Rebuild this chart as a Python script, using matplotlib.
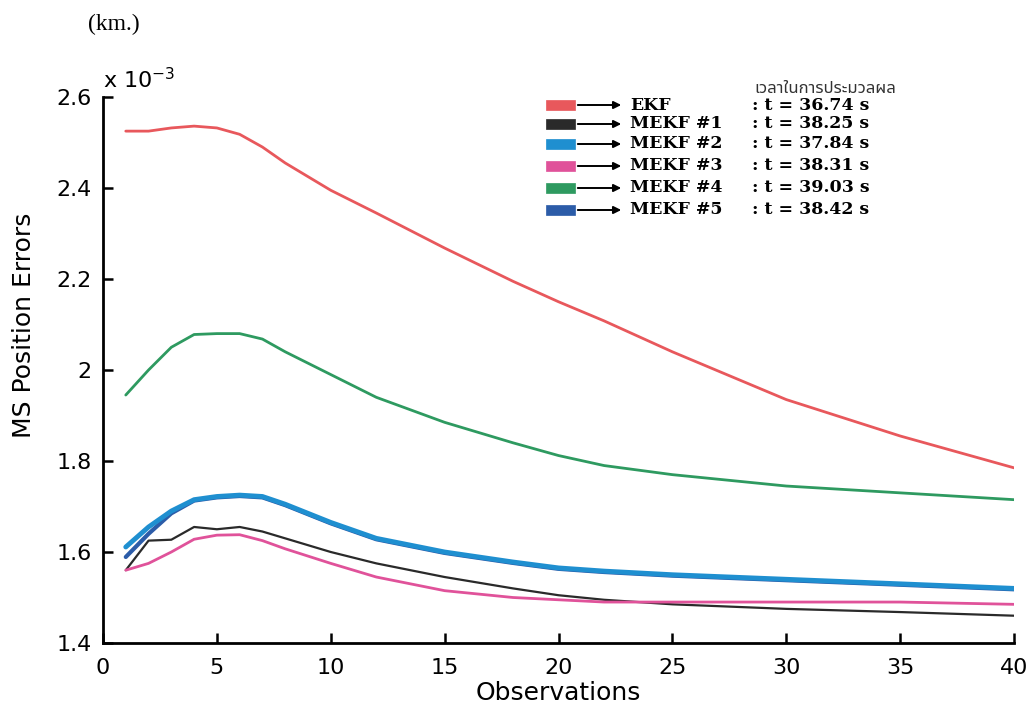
import matplotlib
matplotlib.use("Agg")
import matplotlib.pyplot as plt
from matplotlib.patches import Rectangle, FancyArrowPatch

# ---- data (values in units of 1e-3 km) ----
obs = [1, 2, 3, 4, 5, 6, 7, 8, 10, 12, 15, 18, 20, 22, 25, 30, 35, 40]
ekf   = [2.525, 2.525, 2.532, 2.536, 2.532, 2.518, 2.490, 2.455, 2.395, 2.345, 2.268, 2.195, 2.150, 2.108, 2.040, 1.935, 1.855, 1.785]
mekf1 = [1.560, 1.625, 1.627, 1.655, 1.650, 1.655, 1.645, 1.630, 1.600, 1.575, 1.545, 1.520, 1.505, 1.495, 1.485, 1.475, 1.468, 1.460]
mekf2 = [1.611, 1.655, 1.690, 1.715, 1.722, 1.725, 1.722, 1.705, 1.665, 1.630, 1.600, 1.578, 1.565, 1.558, 1.550, 1.540, 1.530, 1.520]
mekf3 = [1.560, 1.575, 1.600, 1.628, 1.637, 1.638, 1.625, 1.607, 1.575, 1.545, 1.515, 1.500, 1.495, 1.490, 1.490, 1.490, 1.490, 1.485]
mekf4 = [1.945, 2.000, 2.050, 2.078, 2.080, 2.080, 2.068, 2.040, 1.990, 1.940, 1.885, 1.840, 1.812, 1.790, 1.770, 1.745, 1.730, 1.715]
mekf5 = [1.589, 1.640, 1.685, 1.713, 1.720, 1.723, 1.720, 1.703, 1.663, 1.628, 1.598, 1.576, 1.563, 1.556, 1.548, 1.538, 1.528, 1.518]

names = ["EKF", "MEKF #1", "MEKF #2", "MEKF #3", "MEKF #4", "MEKF #5"]
times = ["36.74", "38.25", "37.84", "38.31", "39.03", "38.42"]
series = [ekf, mekf1, mekf2, mekf3, mekf4, mekf5]
colors = ["#e8585c", "#2a2a2a", "#1f8fd0", "#e0529a", "#2e9a60", "#2c5ca8"]
widths = [2.0, 1.6, 3.5, 2.0, 2.0, 3.0]

xticks = [0, 5, 10, 15, 20, 25, 30, 35, 40]
yticks = [1.4, 1.6, 1.8, 2.0, 2.2, 2.4, 2.6]
ytick_labels = ["1.4", "1.6", "1.8", "2", "2.2", "2.4", "2.6"]

W, H = 1033, 711
fig = plt.figure(figsize=(W / 100, H / 100), dpi=100)
ax = fig.add_axes([103 / W, 1 - 643 / H, (1014 - 103) / W, (643 - 97) / H])

order = [4, 0, 5, 2, 1, 3]
for i in order:
    ax.plot(obs, series[i], color=colors[i], lw=widths[i], solid_capstyle="round")

ax.set_xlim(0, 40)
ax.set_ylim(1.4, 2.6)
ax.set_xticks(xticks)
ax.set_yticks(yticks)
ax.set_yticklabels(ytick_labels)
for s in ["top", "right"]:
    ax.spines[s].set_visible(False)
for s in ["left", "bottom"]:
    ax.spines[s].set_linewidth(2.0)
ax.tick_params(direction="in", length=7, width=1.8, labelsize=16)
ax.tick_params(axis="x", pad=11)
ax.tick_params(axis="y", pad=8)
for lab in ax.get_xticklabels() + ax.get_yticklabels():
    lab.set_family("DejaVu Sans")


def fx(px):
    return px / W


def fy(py):
    return 1 - py / H


fig.text(fx(558), fy(693), "Observations", fontsize=18, family="DejaVu Sans",
         ha="center", va="center")
fig.text(fx(24), fy(325), "MS Position Errors", fontsize=18, family="DejaVu Sans",
         ha="center", va="center", rotation=90)

fig.text(fx(103), fy(88), r"x 10$^{\mathregular{-3}}$", fontsize=16, family="DejaVu Sans",
         ha="left", va="baseline")
fig.text(fx(88), fy(24), "(km.)", fontsize=17, family="Liberation Serif", ha="left", va="center")

# custom legend
fig.text(fx(754), fy(89), "เวลาในการประมวลผล", fontsize=12,
         family=["Noto Sans Thai", "Loma", "Garuda", "Noto Sans", "DejaVu Sans"],
         ha="left", va="center", color="#333333")
rows = [105, 124, 144, 166, 188, 210]
for name, t, c, ry in zip(names, times, colors, rows):
    fig.patches.append(Rectangle((fx(546), fy(ry + 5)), fx(575) - fx(546), fy(ry - 5) - fy(ry + 5),
                                 transform=fig.transFigure, facecolor=c, edgecolor=c, lw=0.5))
    arr = FancyArrowPatch((fx(575), fy(ry)), (fx(624), fy(ry)), transform=fig.transFigure,
                          arrowstyle="-|>", mutation_scale=11, color="black", lw=1.4)
    fig.patches.append(arr)
    fig.text(fx(630), fy(ry), name, fontsize=12.5, family="DejaVu Serif", weight="bold",
             ha="left", va="center")
    fig.text(fx(752), fy(ry), ": t = " + t + " s", fontsize=12.5, family="DejaVu Serif",
             weight="bold", ha="left", va="center")

fig.savefig("out.png", dpi=100, facecolor="white")
